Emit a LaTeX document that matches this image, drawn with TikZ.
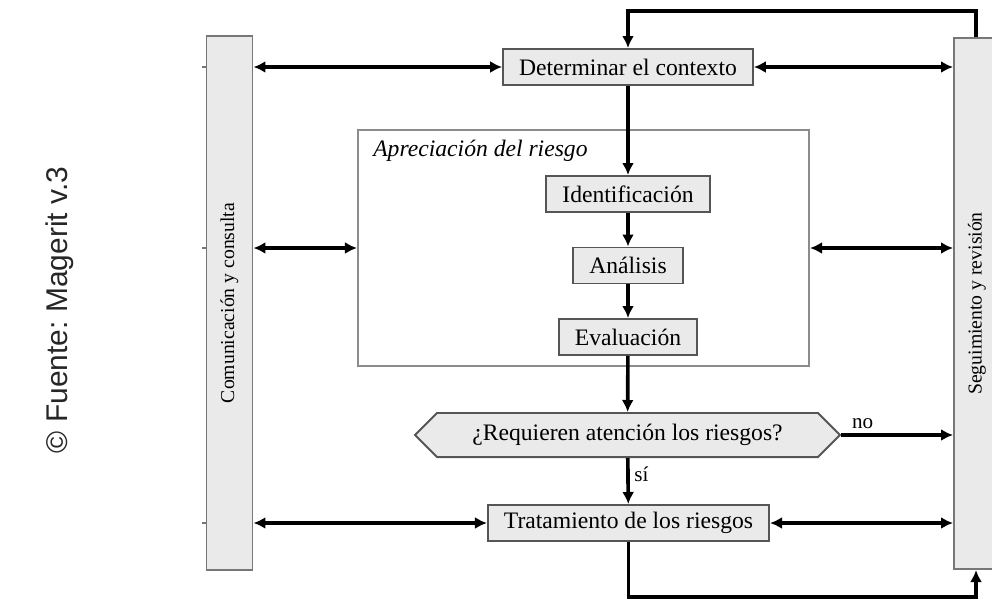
\documentclass[tikz,border=0pt]{standalone}
\usepackage{fontspec}
\setmainfont{Liberation Serif}
\newfontfamily\fuentefont{Liberation Sans}
\usetikzlibrary{arrows.meta,shapes.symbols}
\definecolor{boxfill}{HTML}{EAEAEA}
\definecolor{boxline}{HTML}{555555}
\definecolor{frameline}{HTML}{8C8C8C}
\frenchspacing

\begin{document}
\begin{tikzpicture}[x=0.025cm, y=-0.025cm,
        box/.style={draw=boxline, line width=1.4pt, fill=boxfill, minimum height=0.9cm, inner xsep=0.4cm, font=\fontsize{16.8pt}{18pt}\selectfont},
        bar/.style={draw=boxline!80, line width=1.4pt, fill=boxfill, minimum width=1.15cm, inner sep=0pt},
        bartext/.style={rotate=90, font=\fontsize{14pt}{16pt}\selectfont},
        decision/.style={draw=boxline, line width=1.4pt, fill=boxfill, shape=signal, signal from=nowhere, signal to=east and west, signal pointer angle=90, minimum width=10.625cm, minimum height=1.1cm, inner xsep=0.3cm, font=\fontsize{16.8pt}{18pt}\selectfont},
        flow/.style={line width=2.6pt, -{Latex[length=0.3cm, width=0.3cm]}},
        both/.style={line width=2.6pt, {Latex[length=0.3cm, width=0.3cm]}-{Latex[length=0.3cm, width=0.3cm]}},
        small/.style={font=\fontsize{15pt}{16pt}\selectfont}]
        \useasboundingbox (0,0) rectangle (992,600);
        \node[rotate=90, text=black!85, font=\fuentefont\fontsize{21.3pt}{24pt}\selectfont] (fuente) at (60,310) {© Fuente: Magerit v.3};
        \node[bar, minimum height=13.35cm] (com) at (229.5,303) {};
        \node[bartext] (comtext) at (com) {Comunicación y consulta};
        \node[bar, minimum height=13.275cm] (seg) at (977,303.5) {};
        \node[bartext] (segtext) at (seg) {Seguimiento y revisión};
        \node[draw=frameline, line width=1.4pt, minimum width=11.275cm, minimum height=5.9cm] (apr) at (583.5,248) {};
        \node[anchor=west, inner sep=0pt, font=\itshape\fontsize{16.8pt}{18pt}\selectfont] (aprtext) at (373,151) {Apreciación del riesgo};
        \node[box] (det) at (628,67) {Determinar el contexto};
        \node[box] (ide) at (628,194) {Identificación};
        \node[box] (ana) at (628,265.5) {Análisis};
        \node[box] (eva) at (628,337) {Evaluación};
        \node[decision] (req) at (627.5,435) {¿Requieren atención los riesgos?};
        \node[box] (tra) at (628.5,523) {Tratamiento de los riesgos};
        \coordinate (topR) at (976,11);
        \coordinate (botR) at (976,597);
        % flujo principal
        \draw[flow] (det) -- (ide);
        \draw[flow] (ide) -- (ana);
        \draw[flow] (ana) -- (eva);
        \draw[flow] (eva) -- (req);
        \draw[flow] (req) -- node[right, pos=0.35, small] (si) {sí} (tra);
        \draw[flow] (seg.north -| topR) -- (topR) -| (det.north);
        \draw[flow] (tra.south) |- (botR) -- (seg.south -| botR);
        % comunicacion y seguimiento
        \draw[both] (com.east |- det.west) -- (det.west);
        \draw[both] (det.east) -- (det.east -| seg.west);
        \draw[both] (com.east |- apr.west) -- (apr.west);
        \draw[both] (apr.east) -- (apr.east -| seg.west);
        \draw[flow] (req.east) -- node[above, pos=0.19, small] (no) {no} (req.east -| seg.west);
        \draw[both] (com.east |- tra.west) -- (tra.west);
        \draw[both] (tra.east) -- (tra.east -| seg.west);
        \foreach \n in {det, apr, tra}
            \draw[boxline!80, line width=1.4pt] (com.west |- \n) -- ++(-4,0);
    \end{tikzpicture}
\end{document}
